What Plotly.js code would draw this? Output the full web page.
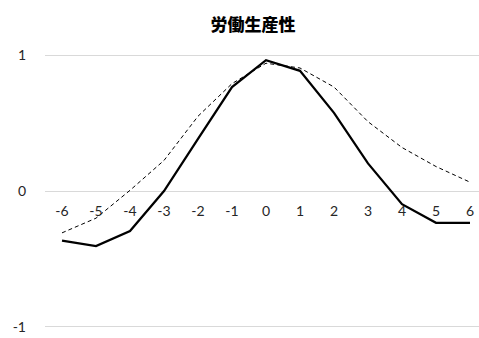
<!DOCTYPE html>
<html>
<head>
<meta charset="utf-8">
<script src="https://cdn.plot.ly/plotly-3.0.1.min.js"></script>
<style>
  html, body { margin: 0; padding: 0; background: #fff; }
  #chart { width: 479px; height: 338px; }
</style>
</head>
<body>
<div id="chart"></div>
<script>
// Lag positions (x categories)
const lags = [-6, -5, -4, -3, -2, -1, 0, 1, 2, 3, 4, 5, 6];
const lagLabels = ['-6', '-5', '-4', '-3', '-2', '-1', '0', '1', '2', '3', '4', '5', '6'];

// Observed correlation (solid line)
const observed = [-0.365, -0.405, -0.295, 0.0, 0.384, 0.765, 0.962, 0.884, 0.575, 0.203, -0.097, -0.234, -0.234];
// Model correlation (dashed line)
const model = [-0.308, -0.2, 0.005, 0.225, 0.55, 0.79, 0.94, 0.905, 0.765, 0.51, 0.32, 0.18, 0.065];

const yTicks = [-1, 0, 1];
const yTickLabels = ['-1', '0', '1'];

const traces = [
  {
    x: lags, y: model, type: 'scatter', mode: 'lines',
    line: { color: '#000000', width: 1, dash: '4px,3px' },
    hoverinfo: 'skip'
  },
  {
    x: lags, y: observed, type: 'scatter', mode: 'lines',
    line: { color: '#000000', width: 2.25 },
    hoverinfo: 'skip'
  }
];

const tickFont = { family: 'Lato, "Liberation Sans", sans-serif', size: 14, color: '#262626' };

const layout = {
  width: 479, height: 338,
  margin: { l: 45, r: 0, t: 51, b: 7 },
  paper_bgcolor: '#ffffff', plot_bgcolor: '#ffffff',
  showlegend: false,
  title: {
    text: '労働生産性',
    font: { family: '"Noto Sans CJK JP", sans-serif', size: 17, color: '#000000', weight: 900 },
    xref: 'container', x: 0.528, xanchor: 'center',
    yref: 'container', y: 0.925, yanchor: 'middle'
  },
  xaxis: {
    range: [-6.5, 6.265],
    tickmode: 'array', tickvals: lags, ticktext: lagLabels,
    showgrid: false, zeroline: false, showline: false,
    ticks: '', tickfont: tickFont,
    anchor: 'free', position: 0.5, side: 'bottom',
    ticklabelstandoff: 10,
    fixedrange: true
  },
  yaxis: {
    range: [-1.03, 1.03],
    tickmode: 'array', tickvals: yTicks, ticktext: yTickLabels,
    showgrid: true, gridcolor: '#d9d9d9', gridwidth: 1,
    zeroline: false, showline: false,
    ticks: '', tickfont: tickFont,
    ticklabelstandoff: 18,
    fixedrange: true
  }
};

Plotly.newPlot('chart', traces, layout, { displayModeBar: false, staticPlot: true });
</script>
</body>
</html>
